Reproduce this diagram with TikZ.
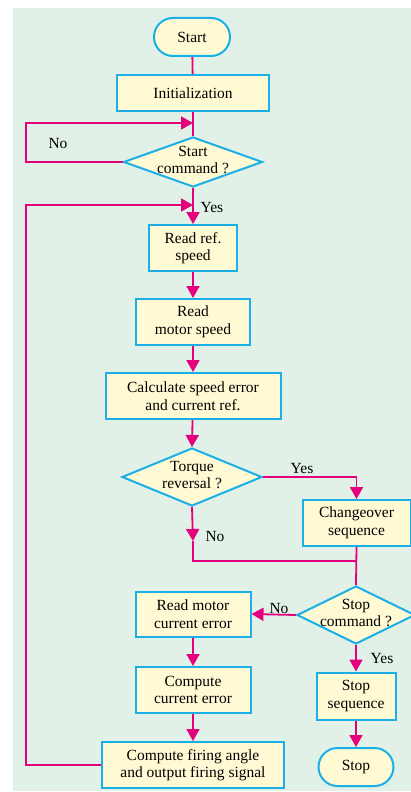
\documentclass[tikz,border=0pt]{standalone}
\usepackage{fontspec}
\setmainfont{Liberation Serif}
\usetikzlibrary{shapes.geometric,arrows.meta}
\definecolor{pinkc}{HTML}{E5007D}
\definecolor{bluec}{HTML}{1BAFE8}
\definecolor{fillc}{HTML}{FFFAD4}
\definecolor{bgc}{HTML}{E1F1E7}
\tikzset{
  box/.style={draw=bluec,fill=fillc,line width=2pt,rectangle,inner sep=0pt,align=center,font=\fontsize{15.5}{17.5}\selectfont},
  term/.style={box,rounded corners=19pt},
  dec/.style={draw=bluec,fill=fillc,line width=2pt,diamond,inner sep=0pt},
  txt/.style={align=center,inner sep=0pt,font=\fontsize{15.5}{17.5}\selectfont},
  lbl/.style={inner sep=0pt,font=\fontsize{15.5}{17.5}\selectfont},
  conn/.style={draw=pinkc,line width=1.8pt},
  arr/.style={conn,-{Triangle[length=12pt,width=13pt]}}
}
\begin{document}
\begin{tikzpicture}[x=1pt,y=-1pt]
\useasboundingbox (0,0) rectangle (411,792);
\fill[bgc] (13,8) rectangle (411,791);
% nodes
\node[term,minimum width=76pt,minimum height=38pt] (start) at (192,37) {Start};
\node[box,minimum width=152pt,minimum height=36pt] (init) at (193,93) {Initialization};
\node[dec,minimum width=139pt,minimum height=50pt] (d1) at (193,162) {};
\node[txt] (d1t) at (193,160) {Start\\command ?};
\node[box,minimum width=88pt,minimum height=46pt] (rr) at (193,248) {Read ref.\\speed};
\node[box,minimum width=114pt,minimum height=46pt] (rm) at (193,322) {Read\\motor speed};
\node[box,minimum width=175pt,minimum height=46pt] (calc) at (193,396) {Calculate speed error\\and current ref.};
\node[dec,minimum width=140pt,minimum height=58pt] (d2) at (192,477) {};
\node[txt] (d2t) at (192,475) {Torque\\reversal ?};
\node[box,minimum width=108pt,minimum height=46pt] (co) at (356.5,523) {Changeover\\sequence};
\node[dec,minimum width=118pt,minimum height=58pt] (d3) at (356,615) {};
\node[txt] (d3t) at (356,613) {Stop\\command ?};
\node[box,minimum width=115pt,minimum height=45pt] (rmc) at (193,614) {Read motor\\current error};
\node[box,minimum width=115pt,minimum height=46pt] (cce) at (193,690) {Compute\\current error};
\node[box,minimum width=182pt,minimum height=46pt] (cf) at (193,765) {Compute firing angle\\and output firing signal};
\node[box,minimum width=79pt,minimum height=47pt] (ss) at (356,696) {Stop\\sequence};
\node[term,minimum width=75pt,minimum height=38pt] (stop) at (356,767) {Stop};
% coordinates
\coordinate (j1) at (193,123);
\coordinate (nl) at (26,162);
\coordinate (j2) at (193,205);
\coordinate (fl) at (26,765);
\coordinate (na) at (193,541);
\coordinate (m1) at (193,561);
\coordinate (m2) at (356,561);
% labels
\node[lbl] (lno1) at (58,144) {No};
\node[lbl] (lyes1) at (212,207) {Yes};
\node[lbl] (lyes2) at (302,468) {Yes};
\node[lbl] (lno2) at (215,536) {No};
\node[lbl] (lno3) at (279,608) {No};
\node[lbl] (lyes3) at (382,658) {Yes};
% connectors
\draw[conn] (start) -- (init);
\draw[conn] (init) -- (d1);
\draw[arr] (d1.west) -- (nl) |- (j1);
\draw[arr] (d1.south) -- (rr.north);
\draw[arr] (cf.west) -- (fl) |- (j2);
\draw[arr] (rr) -- (rm);
\draw[arr] (rm) -- (calc);
\draw[arr] (calc) -- (d2.north);
\draw[arr] (d2.east) -| (co.north);
\draw[arr] (d2.south) -- (na);
\draw[conn] (na) -- (m1) -- (m2);
\draw[conn] (co.south) -- (d3.north);
\draw[arr] (d3.west) -- (rmc.east);
\draw[arr] (d3.south) -- (ss.north);
\draw[arr] (ss) -- (stop);
\draw[arr] (rmc) -- (cce);
\draw[arr] (cce) -- (cf);
\end{tikzpicture}
\end{document}
